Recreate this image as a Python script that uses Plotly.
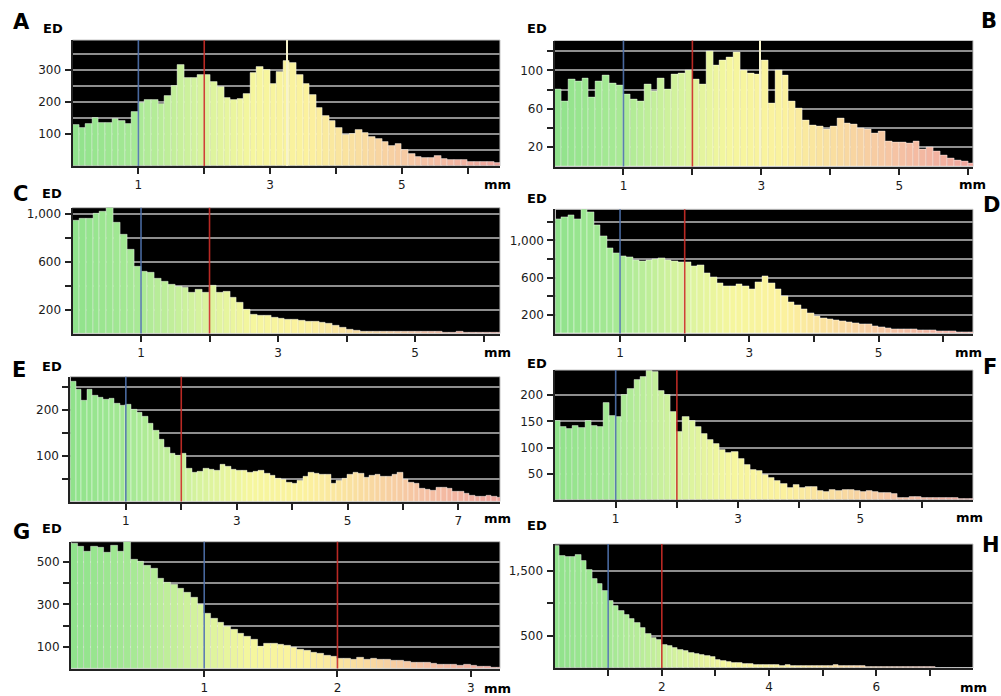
import plotly.graph_objects as go

# ---------------- data: ED per bin ----------------
bin_a = 0.1
a_ed = [128, 120, 130, 150, 135, 135, 148, 140, 132, 170,
        196, 205, 205, 192, 217, 250, 315, 274, 275, 285,
        284, 262, 245, 212, 206, 208, 225, 290, 310, 300,
        255, 294, 326, 320, 284, 255, 220, 180, 155, 140,
        120, 98, 100, 112, 103, 90, 84, 75, 62, 70,
        50, 38, 27, 25, 25, 30, 22, 20, 19, 18,
        14, 13, 12, 11, 9]
a_spike_mm = [3.25]
a_spike_ed = [400]

bin_b = 0.1
b_ed = [80, 68, 90, 88, 92, 72, 88, 95, 86, 84,
        75, 70, 68, 85, 78, 92, 80, 96, 97, 100,
        90, 85, 120, 105, 110, 113, 119, 100, 97, 96,
        110, 65, 100, 95, 68, 60, 48, 43, 42, 38,
        42, 50, 45, 44, 40, 38, 34, 36, 26, 25,
        25, 24, 26, 18, 20, 16, 11, 8, 6, 5,
        3]
b_spike_mm = [2.97]
b_spike_ed = [140]

bin_c = 0.1
c_ed = [940, 960, 960, 1000, 1020, 1060, 930, 830, 700, 560,
        520, 505, 460, 430, 405, 395, 380, 340, 370, 345,
        400, 345, 350, 300, 260, 200, 155, 150, 145, 130,
        122, 117, 115, 105, 100, 95, 92, 80, 62, 45,
        28, 20, 18, 16, 15, 14, 14, 13, 14, 13,
        12, 12, 11, 11, 10, 10, 11, 9, 9, 8,
        8, 7, 6]

bin_d = 0.1
d_ed = [1230, 1250, 1270, 1230, 1330, 1300, 1160, 1050, 920, 860,
        830, 815, 790, 775, 785, 795, 805, 790, 780, 770,
        760, 720, 735, 650, 600, 545, 505, 510, 525, 505,
        470, 555, 610, 540, 480, 400, 340, 300, 260, 220,
        190, 160, 148, 140, 130, 120, 110, 100, 95, 75,
        70, 60, 48, 45, 42, 40, 35, 33, 30, 28,
        25, 20, 15, 12, 10]

bin_e = 0.1
e_ed = [262, 245, 220, 245, 232, 228, 222, 225, 215, 210,
        212, 200, 195, 185, 170, 155, 135, 118, 104, 100,
        105, 72, 62, 66, 72, 70, 68, 80, 76, 70,
        68, 67, 62, 65, 68, 60, 56, 50, 48, 42,
        40, 46, 54, 62, 60, 58, 58, 40, 45, 50,
        58, 64, 60, 52, 56, 58, 55, 54, 58, 62,
        48, 42, 38, 28, 26, 24, 30, 30, 28, 22,
        22, 18, 13, 10, 10, 12, 10, 9]

bin_f = 0.1
f_ed = [150, 140, 135, 142, 138, 150, 142, 140, 185, 160,
        158, 200, 212, 228, 235, 246, 245, 208, 200, 168,
        130, 158, 150, 140, 125, 115, 107, 95, 90, 92,
        78, 67, 58, 55, 48, 42, 36, 30, 22, 28,
        22, 25, 24, 18, 15, 20, 18, 19, 20, 18,
        16, 18, 15, 14, 14, 12, 4, 4, 5, 6,
        4, 3, 3, 4, 3, 3, 2, 2, 2]

bin_g = 0.05
g_ed = [585, 570, 548, 570, 565, 540, 575, 548, 593, 510,
        500, 480, 465, 420, 400, 390, 375, 355, 330, 300,
        255, 235, 215, 195, 180, 165, 150, 135, 100, 118,
        117, 112, 105, 95, 90, 85, 75, 68, 60, 55,
        46, 48, 42, 50, 42, 46, 40, 40, 35, 38,
        32, 27, 25, 28, 22, 20, 18, 20, 14, 16,
        12, 10, 8, 6, 5]

bin_h = 0.1
h_ed = [1880, 1730, 1715, 1720, 1750, 1660, 1520, 1380, 1290, 1190,
        1040, 960, 880, 825, 760, 700, 620, 520, 465, 440,
        360, 340, 310, 285, 260, 235, 215, 205, 190, 170,
        130, 115, 100, 85, 75, 65, 60, 48, 45, 42,
        45, 40, 38, 42, 38, 35, 32, 30, 30, 28,
        28, 26, 40, 35, 30, 28, 25, 25, 22, 20,
        22, 18, 16, 14, 12, 12, 10, 10, 10, 8,
        8, 7, 6, 5, 5, 4, 4, 3]

# reference lines (mm) drawn in every panel
ref_lines_mm = [1, 2]

# tick marks / labels
a_xticks = [1, 2, 3, 4, 5, 6];    a_xlabels = ["1", "", "3", "", "5", ""]
a_yticks = [100, 200, 300];       a_ylabels = ["100", "200", "300"];  a_ygrid = [50, 150, 250, 350]
b_xticks = [1, 2, 3, 4, 5, 6];    b_xlabels = ["1", "", "3", "", "5", ""]
b_yticks = [20, 40, 60, 80, 100, 120]; b_ylabels = ["20", "", "60", "", "100", ""]; b_ygrid = []
c_xticks = [1, 2, 3, 4, 5, 6];    c_xlabels = ["1", "", "3", "", "5", ""]
c_yticks = [200, 400, 600, 800, 1000]; c_ylabels = ["200", "", "600", "", "1,000"]; c_ygrid = []
d_xticks = [1, 2, 3, 4, 5, 6];    d_xlabels = ["1", "", "3", "", "5", ""]
d_yticks = [200, 400, 600, 800, 1000, 1200]; d_ylabels = ["200", "", "600", "", "1,000", ""]; d_ygrid = []
e_xticks = [1, 2, 3, 4, 5, 6, 7]; e_xlabels = ["1", "", "3", "", "5", "", "7"]
e_yticks = [50, 100, 150, 200, 250]; e_ylabels = ["", "100", "", "200", ""]; e_ygrid = []
f_xticks = [1, 2, 3, 4, 5, 6];    f_xlabels = ["1", "", "3", "", "5", ""]
f_yticks = [50, 100, 150, 200];   f_ylabels = ["50", "100", "150", "200"]; f_ygrid = []
g_xticks = [1, 2, 3];             g_xlabels = ["1", "2", "3"]
g_yticks = [100, 200, 300, 400, 500]; g_ylabels = ["100", "", "300", "", "500"]; g_ygrid = []
h_xticks = [1, 2, 3, 4, 5, 6, 7]; h_xlabels = ["", "2", "", "4", "", "6", ""]
h_yticks = [500, 1000, 1500];     h_ylabels = ["500", "", "1,500"]; h_ygrid = []

# ---------------- layout / styling ----------------
W, H = 1001, 696
FONT = "DejaVu Sans, Liberation Sans, Arial, sans-serif"
CS = [[0.0, "#8fe28b"], [0.15, "#a7e995"], [0.3, "#d6f39e"], [0.42, "#f5f69e"],
      [0.55, "#fbf19e"], [0.68, "#f9dca0"], [0.82, "#f5c2a4"], [1.0, "#f0a49c"]]

panels = [
    dict(L="A", v=a_ed, b=bin_a, sx=a_spike_mm, sy=a_spike_ed, xt=a_xticks, xl=a_xlabels, yt=a_yticks, yl=a_ylabels, yg=a_ygrid,
         box=(72.5, 500, 40, 166), xmax=6.49, ymax=393, let=(21, 22), ed=(53, 28), mm=(497, 184)),
    dict(L="B", v=b_ed, b=bin_b, sx=b_spike_mm, sy=b_spike_ed, xt=b_xticks, xl=b_xlabels, yt=b_yticks, yl=b_ylabels, yg=b_ygrid,
         box=(554.5, 973, 40.5, 166.5), xmax=6.07, ymax=131, let=(989, 21), ed=(537, 28), mm=(972, 184)),
    dict(L="C", v=c_ed, b=bin_c, sx=[], sy=[], xt=c_xticks, xl=c_xlabels, yt=c_yticks, yl=c_ylabels, yg=c_ygrid,
         box=(72.5, 500, 207.7, 333.5), xmax=6.24, ymax=1052, let=(20, 194), ed=(52, 193), mm=(497, 352)),
    dict(L="D", v=d_ed, b=bin_d, sx=[], sy=[], xt=d_xticks, xl=d_xlabels, yt=d_yticks, yl=d_ylabels, yg=d_ygrid,
         box=(555.4, 973, 209.3, 333.5), xmax=6.46, ymax=1335, let=(991, 205), ed=(537, 198), mm=(968, 352)),
    dict(L="E", v=e_ed, b=bin_e, sx=[], sy=[], xt=e_xticks, xl=e_xlabels, yt=e_yticks, yl=e_ylabels, yg=e_ygrid,
         box=(70.4, 500, 376.7, 501.5), xmax=7.75, ymax=273, let=(19, 370), ed=(52, 367), mm=(497, 518)),
    dict(L="F", v=f_ed, b=bin_f, sx=[], sy=[], xt=f_xticks, xl=f_xlabels, yt=f_yticks, yl=f_ylabels, yg=f_ygrid,
         box=(554.5, 973, 370, 500), xmax=6.84, ymax=248, let=(990, 367), ed=(537, 363), mm=(969, 517)),
    dict(L="G", v=g_ed, b=bin_g, sx=[], sy=[], xt=g_xticks, xl=g_xlabels, yt=g_yticks, yl=g_ylabels, yg=g_ygrid,
         box=(71, 500, 541.7, 668.5), xmax=3.22, ymax=593, let=(21, 532), ed=(52, 528), mm=(497, 688)),
    dict(L="H", v=h_ed, b=bin_h, sx=[], sy=[], xt=h_xticks, xl=h_xlabels, yt=h_yticks, yl=h_ylabels, yg=h_ygrid,
         box=(554.5, 973, 544, 668), xmax=7.8, ymax=1915, let=(991, 545), ed=(537, 525), mm=(973, 687)),
]

fig = go.Figure()
layout = dict(width=W, height=H, margin=dict(l=0, r=0, t=0, b=0), paper_bgcolor="white",
              plot_bgcolor="black", showlegend=False, bargap=0, barmode="overlay")
shapes, annotations = [], []
line_colors = ["rgba(80,115,175,0.9)", "rgba(205,45,40,0.9)"]

for i, p in enumerate(panels, start=1):
    xr = "x" if i == 1 else f"x{i}"
    yr = "y" if i == 1 else f"y{i}"
    xk = "xaxis" if i == 1 else f"xaxis{i}"
    yk = "yaxis" if i == 1 else f"yaxis{i}"
    xs = [k * p["b"] + p["b"] / 2 for k in range(len(p["v"]))]
    fig.add_trace(go.Bar(x=xs, y=p["v"], width=p["b"], xaxis=xr, yaxis=yr,
                         marker=dict(color=xs, colorscale=CS, cmin=0, cmax=p["xmax"],
                                     line=dict(color="rgba(255,255,255,0.5)", width=0.8)),
                         hoverinfo="skip"))
    if p["sx"]:
        fig.add_trace(go.Bar(x=p["sx"], y=p["sy"], width=0.035, xaxis=xr, yaxis=yr,
                             marker=dict(color="#f6f3cc", line=dict(width=0)), hoverinfo="skip"))
    l, r, t, b = p["box"]
    tickfont = dict(family=FONT, size=12, color="#1a1a1a")
    layout[xk] = dict(domain=[l / W, r / W], range=[0, p["xmax"]], anchor=yr,
                      tickmode="array", tickvals=p["xt"], ticktext=p["xl"],
                      ticks="outside", ticklen=6, tickwidth=1.5, tickcolor="#222",
                      showline=True, linecolor="#222", linewidth=2, showgrid=False, zeroline=False,
                      tickfont=tickfont, ticklabelstandoff=1, fixedrange=True)
    ya = dict(domain=[1 - b / H, 1 - t / H], range=[0, p["ymax"]], anchor=xr,
              tickmode="array", tickvals=p["yt"], ticktext=p["yl"],
              ticks="outside", ticklen=6, tickwidth=1.5, tickcolor="#222",
              showline=True, linecolor="#222", linewidth=2, zeroline=False,
              showgrid=True, gridcolor="#8e8e8e", gridwidth=1.5,
              tickfont=tickfont, ticklabelstandoff=1, fixedrange=True)
    if p["yg"]:
        ya["minor"] = dict(tickmode="array", tickvals=p["yg"], showgrid=True,
                           gridcolor="#8e8e8e", gridwidth=1.5, ticks="")
    layout[yk] = ya
    # light frame around plot area
    shapes.append(dict(type="rect", xref=f"{xr} domain", yref=f"{yr} domain", x0=0, x1=1, y0=0, y1=1,
                       line=dict(color="#c4c4c4", width=1), layer="below"))
    for v, c in zip(ref_lines_mm, line_colors):
        shapes.append(dict(type="line", xref=xr, yref=f"{yr} domain", x0=v, x1=v, y0=0, y1=1,
                           line=dict(color=c, width=1.6), layer="above"))
    annotations.append(dict(text=f"<b>{p['L']}</b>", x=p["let"][0] / W, y=1 - p["let"][1] / H,
                            xref="paper", yref="paper", showarrow=False, xanchor="center", yanchor="middle",
                            font=dict(family=FONT, size=21, color="black")))
    annotations.append(dict(text="<b>ED</b>", x=p["ed"][0] / W, y=1 - p["ed"][1] / H,
                            xref="paper", yref="paper", showarrow=False, xanchor="center", yanchor="middle",
                            font=dict(family=FONT, size=13, color="black")))
    annotations.append(dict(text="<b>mm</b>", x=p["mm"][0] / W, y=1 - p["mm"][1] / H,
                            xref="paper", yref="paper", showarrow=False, xanchor="center", yanchor="middle",
                            font=dict(family=FONT, size=13, color="black")))

layout["shapes"] = shapes
layout["annotations"] = annotations
fig.update_layout(**layout)
fig.write_html("out.html", config={"displayModeBar": False},
               post_script="document.body.style.margin='0';document.body.style.overflow='hidden';")
